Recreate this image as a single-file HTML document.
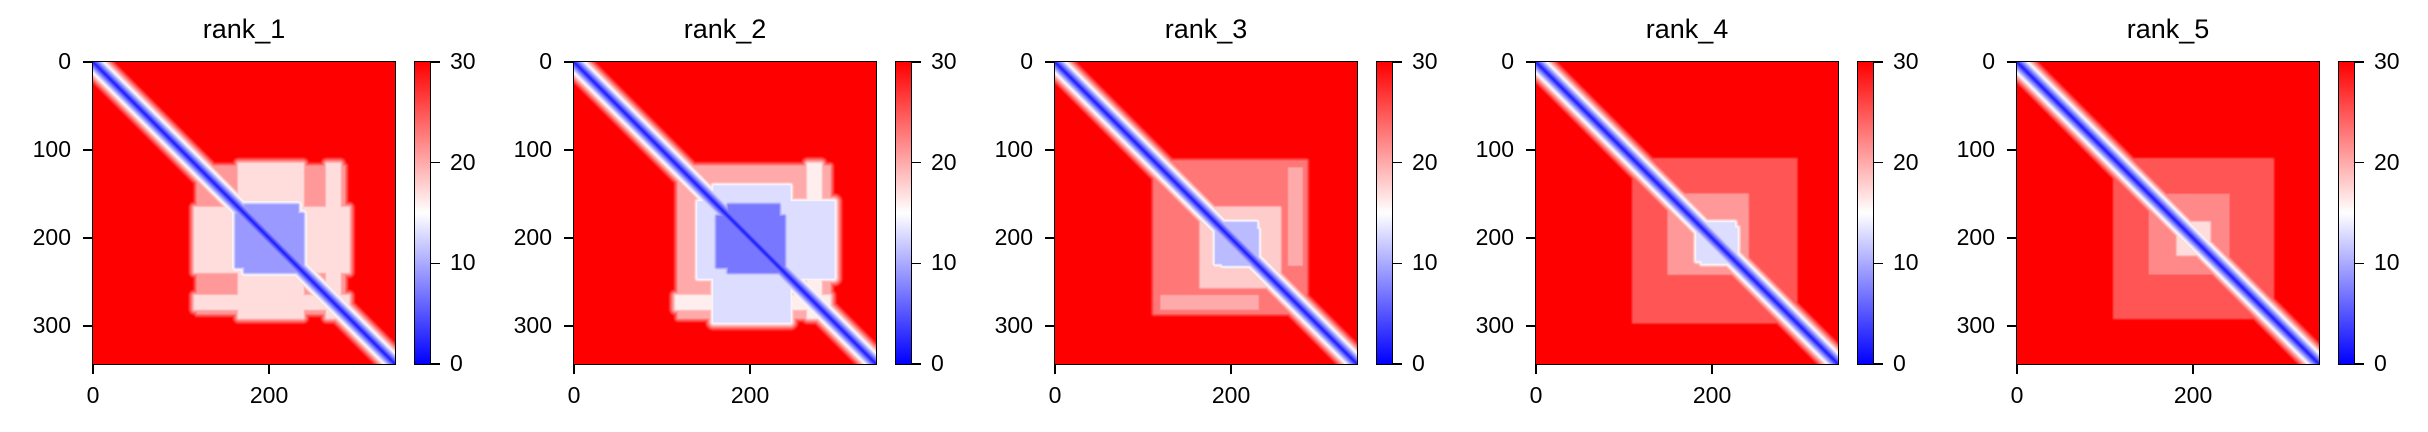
<!DOCTYPE html>
<html><head><meta charset="utf-8">
<style>
html,body{margin:0;padding:0;background:#fff;}
#root{position:relative;width:2428px;height:432px;overflow:hidden;font-family:"Liberation Sans","DejaVu Sans",sans-serif;color:#000;}
.abs{position:absolute;}
.title{font-size:27px;text-align:center;width:302px;}
.tick{font-size:23px;line-height:23px;white-space:nowrap;}
canvas{position:absolute;image-rendering:auto;}
.frame{position:absolute;border:1.6px solid #000;box-sizing:border-box;}
.tm{position:absolute;background:#000;}
</style></head>
<body>
<div id="root"></div>
<script>
// ---- data ----
const panelTitles = ["rank_1","rank_2","rank_3","rank_4","rank_5"];
const seqLength = 343;
const vmin = 0, vmax = 30;
const axisTicks = [0,100,200,300];
const xTicks = [0,200];
const colorbarTicks = [0,10,20,30];
const backgroundDistance = [31,31,31,31,31];
// contact blocks per panel: [rowStart,rowEnd,colStart,colEnd,distance]
const blocksRank1 = [[118,285,118,285,21],[165,238,115,290,17],[172,232,162,238,9],[265,280,115,290,17]];
const blocksRank2 = [[118,285,118,290,20],[158,245,140,295,13],[175,232,162,238,7],[265,280,115,290,16]];
const blocksRank3 = [[112,285,112,285,23],[165,240,165,255,18],[190,228,182,230,11],[265,280,120,230,20]];
const blocksRank4 = [[110,295,110,295,25],[150,240,150,240,21],[188,225,182,228,13]];
const blocksRank5 = [[110,290,110,290,25],[150,240,150,240,22],[182,218,182,218,17]];
const panelBlocks = [blocksRank1,blocksRank2,blocksRank3,blocksRank4,blocksRank5];

const root = document.getElementById('root');
const PL = [93,574,1055,1536,2017], TOP = 62, SZ = 302;

function bwr(v){
  let t = Math.max(0,Math.min(1,(v-vmin)/(vmax-vmin)));
  if (t<0.5){ const u=t/0.5; return [Math.round(255*u),Math.round(255*u),255]; }
  const u=(t-0.5)/0.5; return [255,Math.round(255*(1-u)),Math.round(255*(1-u))];
}
function xScale(v){ return v/seqLength*SZ; }

function el(tag, cls, css, name){
  const e=document.createElement(tag);
  if(cls) e.className=cls;
  Object.assign(e.style, css);
  
  
  root.appendChild(e);
  return e;
}
function rectDist(i,j,b){
  const di = i<b[0]?b[0]-i:(i>b[1]?i-b[1]:0);
  const dj = j<b[2]?b[2]-j:(j>b[3]?j-b[3]:0);
  return Math.sqrt(di*di+dj*dj);
}

panelTitles.forEach((title,p)=>{
  const L = PL[p];
  const t = el('div','abs title',{left:L+'px',top:'14px'},'panel-title');
  t.textContent = title;
  const cv = el('canvas','',{left:L+'px',top:TOP+'px',width:SZ+'px',height:SZ+'px'},'contact-heatmap');
  cv.width = seqLength; cv.height = seqLength;
  const ctx = cv.getContext('2d');
  const img = ctx.createImageData(seqLength,seqLength);
  const blocks = panelBlocks[p];
  for(let i=0;i<seqLength;i++){
    for(let j=0;j<seqLength;j++){
      let d = backgroundDistance[p];
      const k = Math.abs(i-j);
      d = Math.min(d, 1.5 + 1.1*k);
      for(const b of blocks){
        const e = Math.min(rectDist(i,j,b), rectDist(j,i,b));
        d = Math.min(d, b[4] + 1.6*e);
      }
      const c = bwr(d), o=(i*seqLength+j)*4;
      img.data[o]=c[0];img.data[o+1]=c[1];img.data[o+2]=c[2];img.data[o+3]=255;
    }
  }
  ctx.putImageData(img,0,0);
  el('div','frame',{left:(L-1)+'px',top:(TOP-1)+'px',width:(SZ+2)+'px',height:(SZ+2)+'px'},'axes-frame');
  axisTicks.forEach(v=>{
    const y = TOP + xScale(v);
    el('div','tm',{left:(L-10)+'px',top:(y-0.8)+'px',width:'10px',height:'1.6px'},'y-tick');
    const lb = el('div','abs tick',{left:(L-110)+'px',top:(y-12)+'px',width:'88px',textAlign:'right'},'y-tick-label');
    lb.textContent = v;
  });
  xTicks.forEach(v=>{
    const x = L + xScale(v);
    el('div','tm',{left:(x-0.8)+'px',top:(TOP+SZ)+'px',width:'1.6px',height:'10px'},'x-tick');
    const lb = el('div','abs tick',{left:(x-50)+'px',top:(TOP+SZ+20)+'px',width:'100px',textAlign:'center'},'x-tick-label');
    lb.textContent = v;
  });
  const CL = L+322, CW = 15;
  el('div','abs',{left:CL+'px',top:TOP+'px',width:CW+'px',height:SZ+'px',
    background:'linear-gradient(to top,#0000ff,#ffffff,#ff0000)'},'colorbar');
  el('div','frame',{left:(CL-1)+'px',top:(TOP-1)+'px',width:(CW+2)+'px',height:(SZ+2)+'px'},'colorbar-frame');
  colorbarTicks.forEach(v=>{
    const y = TOP + SZ - (v-vmin)/(vmax-vmin)*SZ;
    el('div','tm',{left:(CL+CW)+'px',top:(y-0.8)+'px',width:'10px',height:'1.6px'},'colorbar-tick');
    const lb = el('div','abs tick',{left:(CL+CW+20)+'px',top:(y-12)+'px'},'colorbar-tick-label');
    lb.textContent = v;
  });
});
</script>
</body></html>
